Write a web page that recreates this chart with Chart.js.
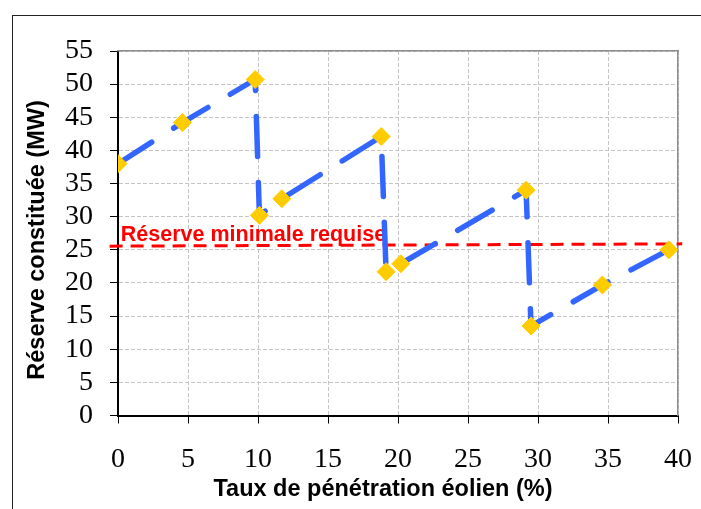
<!DOCTYPE html>
<html>
<head>
<meta charset="utf-8">
<script src="https://cdn.jsdelivr.net/npm/chart.js@4.4.1/dist/chart.umd.min.js"></script>
<style>
  html, body { margin: 0; padding: 0; background: #fff; overflow: hidden; }
  #wrap { position: relative; width: 701px; height: 509px; overflow: hidden; }
  #frame { position: absolute; left: 12px; top: 15px; width: 720px; height: 540px; border: 1.5px solid #222; box-sizing: border-box; pointer-events: none; }
  canvas { position: absolute; left: 0; top: 0; }
</style>
</head>
<body>
<div id="wrap">
  <div id="frame"></div>
  <canvas id="chart" width="701" height="509"></canvas>
</div>
<script>
// Values
const penetration = [0, 4.6, 9.8, 10.1, 11.7, 18.8, 19.15, 20.2, 29.15, 29.5, 34.6, 39.35];
const reserve = [38, 44.2, 50.7, 30.2, 32.7, 42.1, 21.7, 22.9, 34.0, 13.5, 19.7, 25.0];

// Required minimum reserve (drawn slightly sloped in the original)
const minReserveX = [-0.6, 40.3];
const minReserveY = [25.55, 25.9];
const minReserveLabel = 'Réserve minimale requise';
const minReserveLabelPos = [0.2, 26.3];

const xTicks = [0, 5, 10, 15, 20, 25, 30, 35, 40];
const yTicks = [0, 5, 10, 15, 20, 25, 30, 35, 40, 45, 50, 55];

const xTitle = 'Taux de pénétration éolien (%)';
const yTitle = 'Réserve constituée (MW)';

const mainPoints = penetration.map((x, i) => ({ x, y: reserve[i] }));
const minPoints = minReserveX.map((x, i) => ({ x, y: minReserveY[i] }));

const serif = '"Liberation Serif", "Times New Roman", serif';
const sans = '"Liberation Sans", Arial, sans-serif';

// Label of the red line, placed through the scales
const labelPlugin = {
  id: 'minLabel',
  beforeDatasetsDraw(chart) {
    const { ctx, scales } = chart;
    ctx.save();
    ctx.fillStyle = '#ff0000';
    ctx.font = 'bold 21.5px ' + sans;
    ctx.textBaseline = 'alphabetic';
    ctx.fillText(minReserveLabel, scales.x.getPixelForValue(minReserveLabelPos[0]), scales.y.getPixelForValue(minReserveLabelPos[1]));
    ctx.restore();
  }
};

// Axis titles drawn last (the rotated title drawn by the scale upset the tick font)
const titlePlugin = {
  id: 'axisTitles',
  afterDraw(chart) {
    const { ctx } = chart;
    ctx.save();
    ctx.fillStyle = '#000';
    ctx.font = 'bold 23.5px ' + sans;
    ctx.textAlign = 'center';
    ctx.textBaseline = 'alphabetic';
    ctx.fillText(xTitle, 383, 496);
    ctx.translate(44, 240);
    ctx.rotate(-Math.PI / 2);
    ctx.fillText(yTitle, 0, 0);
    ctx.restore();
  }
};

new Chart(document.getElementById('chart'), {
  type: 'scatter',
  data: {
    datasets: [
      {
        data: mainPoints,
        showLine: true,
        borderColor: '#3366ff',
        borderWidth: 5.5,
        borderDash: [40, 26],
        borderCapStyle: 'round',
        pointStyle: 'rectRot',
        pointRadius: 9,
        pointBackgroundColor: '#ffcc00',
        pointBorderColor: '#ffcc00',
        pointBorderWidth: 1,
        order: 1
      },
      {
        data: minPoints,
        showLine: true,
        borderColor: '#ff0000',
        borderWidth: 3,
        borderDash: [13, 8],
        pointRadius: 0,
        clip: false,
        order: 2
      }
    ]
  },
  options: {
    responsive: false,
    animation: false,
    events: [],
    layout: { padding: { left: 14, top: 51, right: 23, bottom: 0 } },
    plugins: { legend: { display: false }, tooltip: { enabled: false } },
    scales: {
      x: {
        type: 'linear',
        min: 0,
        max: 40,
        afterBuildTicks: (scale) => { scale.ticks = xTicks.map(v => ({ value: v })); },
        afterFit: (scale) => { scale.height = 93.5; scale.paddingRight = 23; scale.paddingLeft = 0; },
        grid: { color: '#c4c4c4', tickColor: '#000', tickLength: 8, lineWidth: 1 },
        border: { color: '#000', width: 2, dash: [4, 2] },
        ticks: { color: '#000', font: { family: serif, size: 28 }, padding: 19, maxRotation: 0, autoSkip: false }
      },
      y: {
        min: 0,
        max: 55,
        afterBuildTicks: (scale) => { scale.ticks = yTicks.map(v => ({ value: v })); },
        afterFit: (scale) => { scale.width = 104; },
        grid: { color: '#c4c4c4', tickColor: '#000', tickLength: 8, lineWidth: 1 },
        border: { color: '#000', width: 2, dash: [4, 2] },
        ticks: { color: '#000', font: { family: serif, size: 28 }, padding: 17, autoSkip: false }
      },
      xTop: {
        type: 'linear',
        position: 'top',
        min: 0,
        max: 40,
        afterFit: (scale) => { scale.height = 0; },
        grid: { display: false },
        border: { color: '#8c8c8c', width: 1.5 },
        ticks: { display: false }
      },
      yRight: {
        position: 'right',
        min: 0,
        max: 55,
        afterFit: (scale) => { scale.width = 0; },
        grid: { display: false },
        border: { color: '#8c8c8c', width: 1.5 },
        ticks: { display: false }
      }
    }
  },
  plugins: [labelPlugin, titlePlugin]
});
</script>
</body>
</html>
